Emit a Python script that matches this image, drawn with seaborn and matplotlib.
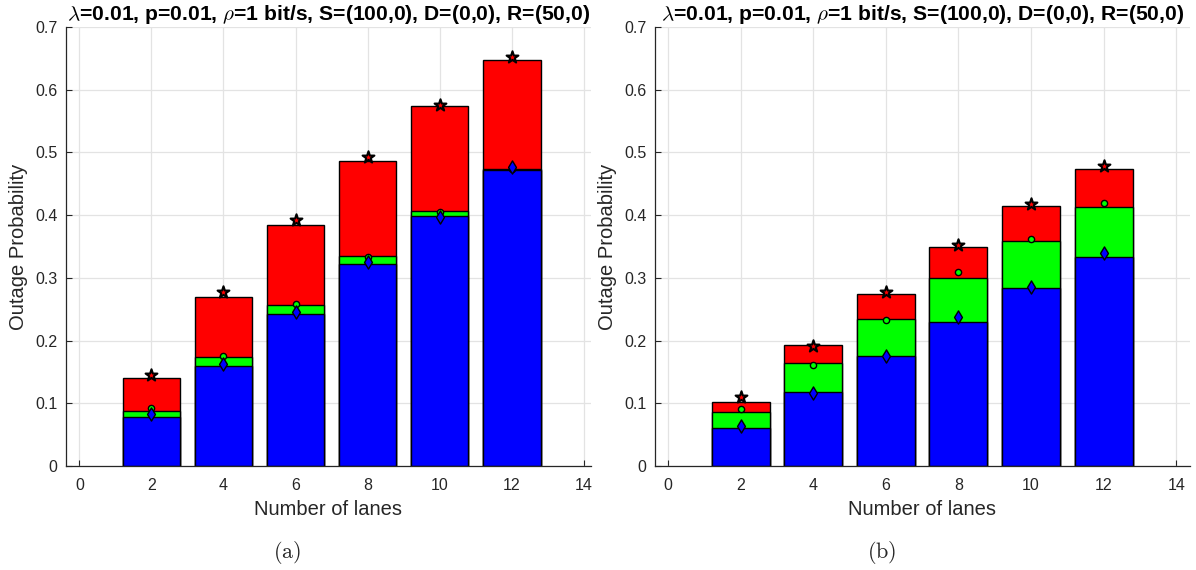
import numpy as np
import pandas as pd
import matplotlib
matplotlib.use("Agg")
import matplotlib.pyplot as plt
import seaborn as sns

sns.set_theme(style="whitegrid")
plt.rcParams['font.family'] = ['Liberation Sans', 'DejaVu Sans']
plt.rcParams['mathtext.fontset'] = 'cm'

lanes = [2, 4, 6, 8, 10, 12]

# panel (a)
blue_a = [0.078, 0.160, 0.242, 0.322, 0.399, 0.472]
green_a = [0.088, 0.174, 0.257, 0.335, 0.406, 0.473]
red_a = [0.140, 0.270, 0.384, 0.486, 0.574, 0.648]
star_a = [0.145, 0.277, 0.392, 0.493, 0.575, 0.652]
circ_a = [0.092, 0.176, 0.259, 0.334, 0.405, 0.474]
diam_a = [0.083, 0.163, 0.246, 0.325, 0.397, 0.477]

# panel (b)
blue_b = [0.061, 0.118, 0.175, 0.230, 0.284, 0.334]
green_b = [0.086, 0.164, 0.234, 0.300, 0.359, 0.413]
red_b = [0.102, 0.193, 0.275, 0.349, 0.415, 0.474]
star_b = [0.110, 0.191, 0.278, 0.353, 0.418, 0.478]
circ_b = [0.091, 0.161, 0.233, 0.310, 0.362, 0.419]
diam_b = [0.064, 0.116, 0.175, 0.238, 0.286, 0.340]

title = r'$\lambda$=0.01, p=0.01, $\rho$=1 bit/s, S=(100,0), D=(0,0), R=(50,0)'
ink = '#262626'

fig = plt.figure(figsize=(11.96, 5.70), dpi=100)
W, H = 1196, 570
ax_a = fig.add_axes([66 / W, (H - 466) / H, (591 - 66) / W, (466 - 27) / H])
ax_b = fig.add_axes([655 / W, (H - 466) / H, (1190 - 655) / W, (466 - 27) / H])


def draw(ax, blue, green, red, star, circ, diam, xlim):
    df = pd.DataFrame({'lanes': lanes, 'blue': blue, 'green': green, 'red': red,
                       'star': star, 'circ': circ, 'diam': diam})
    # stacked bars: draw totals first, then the lower parts on top
    for col, c in [('red', '#ff0000'), ('green', '#00ff00'), ('blue', '#0000ff')]:
        sns.barplot(data=df, x='lanes', y=col, native_scale=True, width=0.8,
                    color=c, saturation=1, edgecolor='black', linewidth=1,
                    ax=ax, zorder=2)
    sns.scatterplot(data=df, x='lanes', y='star', marker='*', s=80, color='#ff0000',
                    edgecolor='black', linewidth=1.5, ax=ax, zorder=5)
    sns.scatterplot(data=df, x='lanes', y='circ', marker='o', s=20, color='#00ff00',
                    edgecolor='black', linewidth=1, ax=ax, zorder=6)
    sns.scatterplot(data=df, x='lanes', y='diam', marker='d', s=45, color='#0000ff',
                    edgecolor='black', linewidth=1, ax=ax, zorder=7)
    ax.set_xlim(*xlim)
    ax.set_ylim(0, 0.7)
    ax.set_xticks(range(0, 15, 2))
    ax.set_yticks(np.arange(0, 0.71, 0.1))
    ax.set_yticklabels(['0'] + ['%.1f' % v for v in np.arange(0.1, 0.71, 0.1)])
    ax.set_axisbelow(True)
    ax.grid(True, color='#e3e3e3', linewidth=0.9)
    ax.set_facecolor('white')
    for s in ['top', 'right']:
        ax.spines[s].set_visible(False)
    for s in ['left', 'bottom']:
        ax.spines[s].set_color(ink)
        ax.spines[s].set_linewidth(0.9)
    ax.tick_params(direction='in', length=4, width=0.8, colors=ink,
                   labelsize=11.5, left=True, bottom=True, pad=6)
    ax.tick_params(axis='x', pad=9)
    ax.set_xlabel('Number of lanes', fontsize=14.5, color=ink, labelpad=5)
    ax.set_ylabel('Outage Probability', fontsize=14.5, color=ink, labelpad=5)
    ax.set_title(title, fontsize=15.2, fontweight='bold', color='black', pad=5)


draw(ax_a, blue_a, green_a, red_a, star_a, circ_a, diam_a, (-0.37, 14.2))
draw(ax_b, blue_b, green_b, red_b, star_b, circ_b, diam_b, (-0.36, 14.38))

fig.text(287 / W, 1 - 552 / H, r'$\mathrm{(a)}$', fontsize=16, ha='center', va='center')
fig.text(882 / W, 1 - 552 / H, r'$\mathrm{(b)}$', fontsize=16, ha='center', va='center')

fig.savefig('out.png', dpi=100, facecolor='white')
